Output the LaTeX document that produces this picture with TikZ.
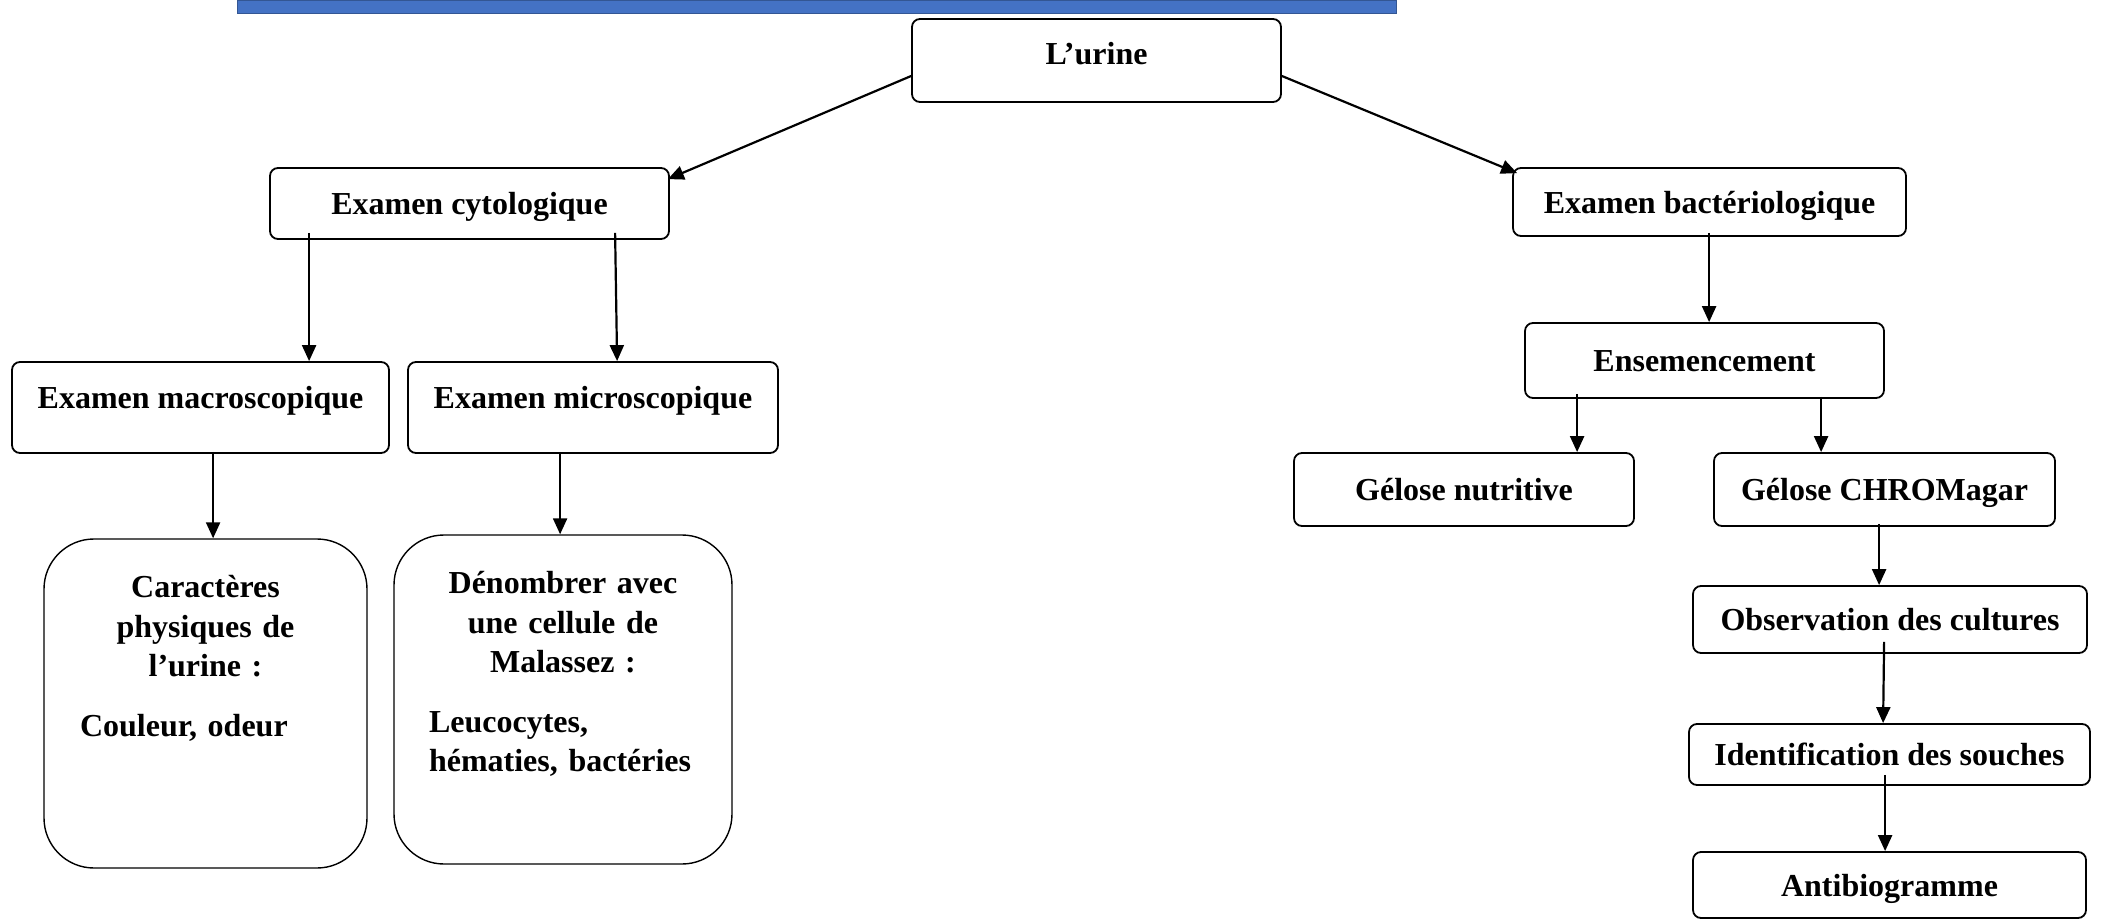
\documentclass[tikz,border=0pt]{standalone}
\usepackage{fontspec}
\setmainfont{Liberation Serif}
\usetikzlibrary{positioning}
\usetikzlibrary{arrows.meta}
\definecolor{bandeau}{HTML}{4472C4}
\tikzset{
	every node/.style = {font=\fontsize{16}{19.75}\selectfont\bfseries},
	boite/.style = {draw, rounded corners=4pt, line width=0.9pt, inner sep=0pt, text height=11pt, text depth=0pt},
	grande/.style = {draw, rounded corners=25pt, line width=0.7pt, inner sep=0pt},
	texte/.style = {anchor=north, inner sep=0pt},
	fleche/.style = {-{Triangle[length=8pt,width=7pt]}, line width=1.1pt}
}

\begin{document}
\begin{tikzpicture}[x=0.5pt, y=-0.5pt]
		\useasboundingbox (0,0) rectangle (2103,920);
		% bandeau
		\fill[bandeau, draw=bandeau!75!black, line width=0.4pt] (237,0) rectangle (1396,13);
		
		% racine
		\node[boite, minimum width=184.5pt, minimum height=41.5pt, text depth=7pt] (urine) at (1096.5,60.5) {L’urine};
		
		% depth 1
		\node[boite, minimum width=199.5pt, minimum height=35.5pt] (cyto) at (469.5,203.5) {Examen cytologique};
		\node[boite, minimum width=196.5pt, minimum height=34pt] (bact) at (1709.5,202) {Examen bactériologique};
		
		% cote cytologique
		\node[boite, minimum width=188.5pt, minimum height=45.5pt, text depth=10pt] (macro) at (200.5,407.5) {Examen macroscopique};
		\node[boite, minimum width=185pt, minimum height=45.5pt, text depth=10pt] (micro) at (593,407.5) {Examen microscopique};
		\node[grande, minimum width=161.5pt, minimum height=164.5pt] (carbox) at (205.5,703.5) {};
		\node[grande, minimum width=169pt, minimum height=164.5pt] (denbox) at (563,699.5) {};
		\node[texte, text width=125.5pt] (cartexte) at ([yshift=-18.5pt]carbox.north)
			{{\centering Caractères\\ physiques de\\ l’urine :\par}\vspace{10pt}Couleur, odeur};
		\node[texte, text width=134pt] (dentexte) at ([yshift=-18.5pt]denbox.north)
			{{\centering Dénombrer avec\\ une cellule de\\ Malassez :\par}\vspace{10pt}Leucocytes,\\ hématies, bactéries};
		
		% cote bacteriologique
		\node[boite, minimum width=179.5pt, minimum height=37.5pt] (ens) at (1704.5,360.5) {Ensemencement};
		\node[boite, minimum width=170pt, minimum height=36.5pt] (gnut) at (1464,489.5) {Gélose nutritive};
		\node[boite, minimum width=170.5pt, minimum height=36.5pt] (gchrom) at (1884.5,489.5) {Gélose CHROMagar};
		\node[boite, minimum width=197pt, minimum height=33.5pt] (obs) at (1890,619.5) {Observation des cultures};
		\node[boite, minimum width=200.5pt, minimum height=30.5pt] (ident) at (1889.5,754.5) {Identification des souches};
		\node[boite, minimum width=196.5pt, minimum height=33pt] (anti) at (1889.5,885) {Antibiogramme};
		
		% fleches
		\draw[fleche] ([yshift=-7.75pt]urine.west) -- ([xshift=-1pt,yshift=-6pt]cyto.north east);
		\draw[fleche] ([yshift=-7.75pt]urine.east) -- ([xshift=2.5pt,yshift=-3pt]bact.north west);
		
		\coordinate (d1) at ([xshift=20pt,yshift=3.5pt]cyto.south west);
		\coordinate (d2) at ([xshift=173pt,yshift=3.5pt]cyto.south west);
		\coordinate (d3) at ([xshift=101pt,yshift=1pt]macro.south west);
		\coordinate (d4) at ([xshift=76.5pt,yshift=1pt]micro.south west);
		\draw[fleche] (d1) -- (d1 |- macro.north);
		\draw[fleche] (d2) -- ([xshift=105pt]micro.north west);
		\draw[fleche] (d3) -- (d3 |- carbox.north);
		\draw[fleche] (d4) -- (d4 |- denbox.north);
		
		\coordinate (b1) at ([xshift=98.5pt,yshift=2pt]bact.south west);
		\coordinate (b2) at ([xshift=26.5pt,yshift=2.5pt]ens.south west);
		\coordinate (b3) at ([xshift=148.5pt,yshift=1pt]ens.south west);
		\coordinate (b4) at ([xshift=83pt,yshift=1.5pt]gchrom.south west);
		\coordinate (b5) at ([xshift=96pt,yshift=6pt]obs.south west);
		\coordinate (b6) at ([xshift=98.5pt,yshift=5.5pt]ident.south west);
		\draw[fleche] (b1) -- (b1 |- ens.north);
		\draw[fleche] (b2) -- (b2 |- gnut.north);
		\draw[fleche] (b3) -- (b3 |- gchrom.north);
		\draw[fleche] (b4) -- (b4 |- obs.north);
		\draw[fleche] (b5) -- ([xshift=97.5pt]ident.north west);
		\draw[fleche] (b6) -- (b6 |- anti.north);
	\end{tikzpicture}
\end{document}
